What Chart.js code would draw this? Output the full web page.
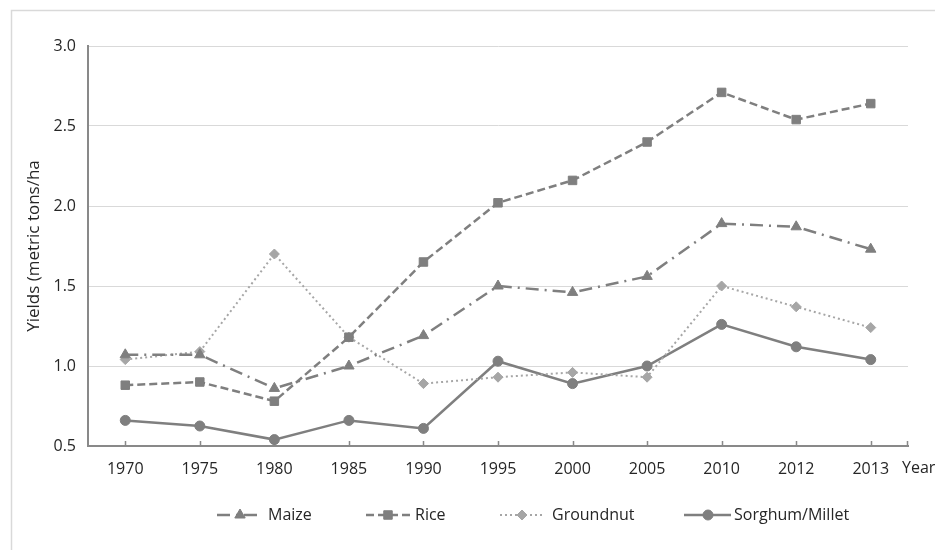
<!DOCTYPE html>
<html><head><meta charset="utf-8">
<script src="https://cdn.jsdelivr.net/npm/chart.js@4"></script>
<style>html,body{margin:0;padding:0;background:#fff}#wrap{width:935px;height:550px;position:relative}</style>
</head><body><div id="wrap"><canvas id="c" width="935" height="550"></canvas></div>
<script>
// ---- data ----
const years = ['1970','1975','1980','1985','1990','1995','2000','2005','2010','2012','2013'];
const maize = [1.07, 1.07, 0.86, 1.00, 1.19, 1.50, 1.46, 1.56, 1.89, 1.87, 1.73];
const rice = [0.88, 0.90, 0.78, 1.18, 1.65, 2.02, 2.16, 2.40, 2.71, 2.54, 2.64];
const groundnut = [1.04, 1.09, 1.70, 1.18, 0.89, 0.93, 0.96, 0.93, 1.50, 1.37, 1.24];
const sorghumMillet = [0.66, 0.625, 0.54, 0.66, 0.61, 1.03, 0.89, 1.00, 1.26, 1.12, 1.04];
const yTicks = [0.5, 1.0, 1.5, 2.0, 2.5, 3.0];
const seriesNames = ['Maize', 'Rice', 'Groundnut', 'Sorghum/Millet'];
const yTitle = 'Yields (metric tons/ha';
const xTitle = 'Year';

const FONT = "'Open Sans', sans-serif";
const DARK = '#7f7f7f', LIGHT = '#a6a6a6', TXT = '#262626';

const datasets = [
  {label: seriesNames[0], data: maize, borderColor: DARK, backgroundColor: DARK, borderWidth: 2.5,
   borderDash: [13,6,2,6], pointStyle: 'triangle', pointRadius: 6},
  {label: seriesNames[1], data: rice, borderColor: DARK, backgroundColor: DARK, borderWidth: 2.5,
   borderDash: [8,4], pointStyle: 'rect', pointRadius: 6},
  {label: seriesNames[2], data: groundnut, borderColor: LIGHT, backgroundColor: LIGHT, borderWidth: 2,
   borderDash: [2,3], pointStyle: 'rectRot', pointRadius: 5},
  {label: seriesNames[3], data: sorghumMillet, borderColor: DARK, backgroundColor: DARK, borderWidth: 2.5,
   borderDash: [], pointStyle: 'circle', pointRadius: 5}
].map(d => Object.assign(d, {tension: 0, fill: false, pointBorderWidth: 1, pointBorderColor: d.borderColor,
   pointBackgroundColor: d.backgroundColor, pointHoverRadius: d.pointRadius}));

// legend layout (positions only)
const legendPos = [
  {x0: 217, x1: 258, m: 240, tx: 268},
  {x0: 366, x1: 411, m: 388, tx: 415},
  {x0: 500, x1: 545, m: 522, tx: 552},
  {x0: 684, x1: 731, m: 708, tx: 734}
];
const LEGEND_Y = 515;

function marker(ctx, style, x, y, r, color) {
  ctx.save();
  ctx.fillStyle = color; ctx.strokeStyle = color; ctx.lineWidth = 1; ctx.setLineDash([]);
  ctx.beginPath();
  if (style === 'circle') { ctx.arc(x, y, r, 0, Math.PI*2); }
  else if (style === 'rect') { const s = Math.SQRT1_2*r; ctx.rect(x-s, y-s, 2*s, 2*s); }
  else if (style === 'rectRot') { ctx.moveTo(x, y-r); ctx.lineTo(x+r, y); ctx.lineTo(x, y+r); ctx.lineTo(x-r, y); ctx.closePath(); }
  else if (style === 'triangle') {
    ctx.moveTo(x, y-r); ctx.lineTo(x+r*Math.sin(Math.PI/3), y+r*0.5); ctx.lineTo(x-r*Math.sin(Math.PI/3), y+r*0.5); ctx.closePath();
  }
  ctx.fill(); ctx.stroke(); ctx.restore();
}

const deco = {
  id: 'deco',
  beforeDraw(chart) {
    const ctx = chart.ctx; ctx.save();
    ctx.fillStyle = '#fff'; ctx.fillRect(0, 0, chart.width, chart.height);
    ctx.strokeStyle = '#d9d9d9'; ctx.lineWidth = 1.5;
    ctx.beginPath(); ctx.moveTo(11.5, chart.height); ctx.lineTo(11.5, 10.5); ctx.lineTo(chart.width, 10.5); ctx.stroke();
    ctx.restore();
  },
  beforeDatasetsDraw(chart) {
    const ctx = chart.ctx, xs = chart.scales.x, b = chart.chartArea.bottom;
    ctx.save(); ctx.strokeStyle = '#898989'; ctx.lineWidth = 1.5; ctx.beginPath();
    for (let i = 0; i < years.length; i++) { const x = Math.round(xs.getPixelForTick(i)) + 0.5; ctx.moveTo(x, b - 5); ctx.lineTo(x, b); }
    ctx.moveTo(xs.right - 0.5, b - 5); ctx.lineTo(xs.right - 0.5, b);
    ctx.stroke(); ctx.restore();
  },
  afterDraw(chart) {
    const ctx = chart.ctx; ctx.save();
    // x title "Year"
    ctx.fillStyle = TXT; ctx.font = '16px ' + FONT; ctx.textBaseline = 'middle'; ctx.textAlign = 'left';
    ctx.fillText(xTitle, chart.scales.x.right - 6, 468);
    // legend
    chart.data.datasets.forEach((d, i) => {
      const p = legendPos[i];
      ctx.save();
      ctx.strokeStyle = d.borderColor; ctx.lineWidth = d.borderWidth; ctx.setLineDash(d.borderDash || []);
      ctx.beginPath(); ctx.moveTo(p.x0, LEGEND_Y); ctx.lineTo(p.x1, LEGEND_Y); ctx.stroke();
      ctx.restore();
      marker(ctx, d.pointStyle, p.m, LEGEND_Y, d.pointRadius, d.borderColor);
      ctx.fillStyle = TXT; ctx.font = '16px ' + FONT; ctx.textBaseline = 'middle'; ctx.textAlign = 'left';
      ctx.fillText(d.label, p.tx, LEGEND_Y);
    });
    ctx.restore();
  }
};

new Chart(document.getElementById('c'), {
  type: 'line',
  data: {labels: years, datasets},
  plugins: [deco],
  options: {
    responsive: false, animation: false, devicePixelRatio: 1,
    layout: {padding: {left: 0, right: 27, top: 46, bottom: 60}},
    plugins: {legend: {display: false}, tooltip: {enabled: false}},
    scales: {
      x: {
        offset: true,
        grid: {display: true, drawOnChartArea: false, drawTicks: false, offset: false},
        border: {color: '#898989', width: 2},
        ticks: {color: TXT, font: {family: FONT, size: 16}, padding: 14, maxRotation: 0, autoSkip: false},
        afterFit: s => { s.height = 44; }
      },
      y: {
        min: yTicks[0], max: yTicks[yTicks.length - 1],
        afterBuildTicks: s => { s.ticks = yTicks.map(v => ({value: v})); },
        grid: {color: '#d9d9d9', lineWidth: 1, drawTicks: false},
        border: {color: '#898989', width: 2},
        ticks: {color: TXT, font: {family: FONT, size: 16}, padding: 12, callback: v => Number(v).toFixed(1)},
        title: {display: true, text: yTitle, color: TXT, font: {family: FONT, size: 17}, padding: {top: 24, bottom: 0}},
        afterFit: s => { s.width = 88; }
      }
    }
  }
});
</script></body></html>
